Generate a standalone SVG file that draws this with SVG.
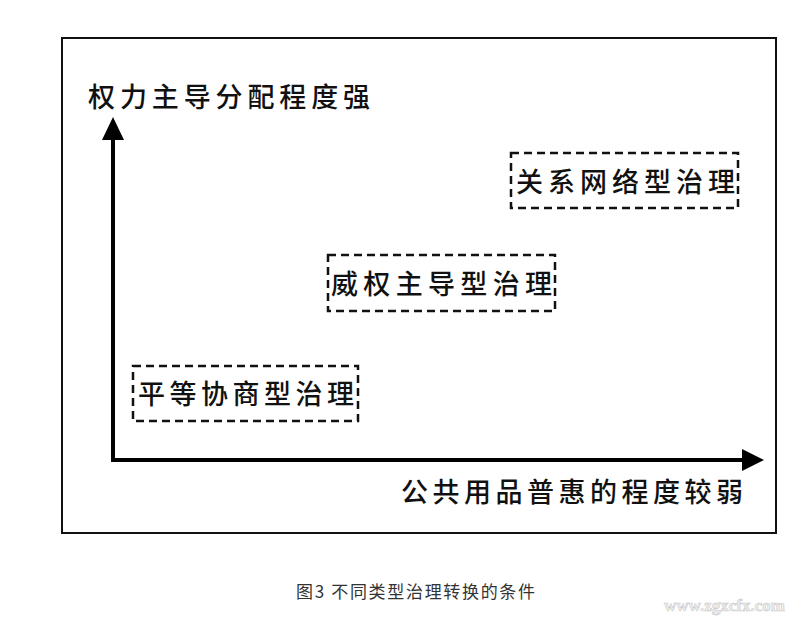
<svg xmlns="http://www.w3.org/2000/svg" width="801" height="618" viewBox="0 0 801 618">
<style>
.t{font-family:"Noto Sans CJK SC",sans-serif;font-size:27px;font-weight:500;fill:#111}
.b{fill:none;stroke:#111;stroke-width:2.5;stroke-dasharray:8,5}
.a{stroke:#000;stroke-width:4;fill:none}
</style>
<rect width="801" height="618" fill="#fff"/>
<rect x="62" y="38" width="714" height="495" fill="none" stroke="#111" stroke-width="2"/>
<g id="connectors">
<path class="a" d="M113 462V136M111 460H745"/>
<path d="M113 117L102 140H124Z M764 460L742 449V471Z" fill="#000"/>
</g>
<g id="ylabel"><text class="t" x="88" y="107" textLength="282" lengthAdjust="spacing">权力主导分配程度强</text></g>
<g id="xlabel"><text class="t" x="401" y="502" textLength="342" lengthAdjust="spacing">公共用品普惠的程度较弱</text></g>
<g id="n1"><rect class="b" x="133" y="366" width="225" height="55"/><text class="t" x="138" y="404" textLength="216" lengthAdjust="spacing">平等协商型治理</text></g>
<g id="n2"><rect class="b" x="328" y="255" width="227" height="56"/><text class="t" x="331" y="294" textLength="221" lengthAdjust="spacing">威权主导型治理</text></g>
<g id="n3"><rect class="b" x="511" y="153" width="227" height="55"/><text class="t" x="516" y="192" textLength="219" lengthAdjust="spacing">关系网络型治理</text></g>
<text x="296" y="598" font-family="Noto Sans CJK SC,sans-serif" font-size="17" fill="#333" textLength="239" lengthAdjust="spacing">图3 不同类型治理转换的条件</text>
<text x="664" y="611" font-family="Liberation Serif,serif" font-size="17" font-weight="bold" fill="#eee" stroke="#ccc" stroke-width="0.6">www.zgxcfx.com</text>
</svg>
